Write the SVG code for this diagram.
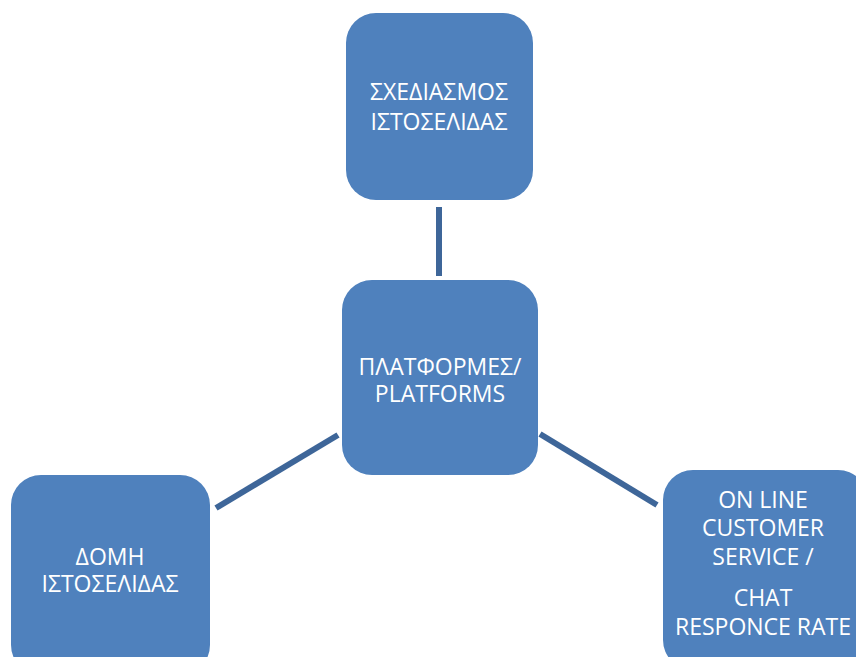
<svg xmlns="http://www.w3.org/2000/svg" width="856" height="657" viewBox="0 0 856 657">
<style>
.box{fill:#4F81BD;}
.lbl{font-family:"Open Sans","Liberation Sans",sans-serif;font-size:23px;fill:#FFFFFF;text-anchor:middle;}
.conn{stroke:#3E6699;stroke-width:6;fill:none;}
</style>
<rect width="856" height="657" fill="#FFFFFF"/>
<g id="connectors">
<line class="conn" x1="439" y1="207" x2="439" y2="276"/>
<line class="conn" x1="216" y1="508" x2="338" y2="435"/>
<line class="conn" x1="540" y1="434" x2="657" y2="505"/>
</g>
<g id="node-top">
<rect class="box" x="346" y="13" width="187" height="187" rx="30"/>
<text class="lbl" x="439" y="100">ΣΧΕΔΙΑΣΜΟΣ</text>
<text class="lbl" x="439" y="130">ΙΣΤΟΣΕΛΙΔΑΣ</text>
</g>
<g id="node-center">
<rect class="box" x="342" y="280" width="196" height="195" rx="30"/>
<text class="lbl" x="440" y="375">ΠΛΑΤΦΟΡΜΕΣ/</text>
<text class="lbl" x="440" y="402">PLATFORMS</text>
</g>
<g id="node-left">
<rect class="box" x="11" y="475" width="199" height="200" rx="30"/>
<text class="lbl" x="110" y="565">ΔΟΜΗ</text>
<text class="lbl" x="110" y="592">ΙΣΤΟΣΕΛΙΔΑΣ</text>
</g>
<g id="node-right">
<rect class="box" x="663" y="470" width="205" height="200" rx="30"/>
<text class="lbl" x="763" y="508">ON LINE</text>
<text class="lbl" x="763" y="536">CUSTOMER</text>
<text class="lbl" x="763" y="565">SERVICE /</text>
<text class="lbl" x="763" y="606">CHAT</text>
<text class="lbl" x="763" y="635">RESPONCE RATE</text>
</g>
</svg>
